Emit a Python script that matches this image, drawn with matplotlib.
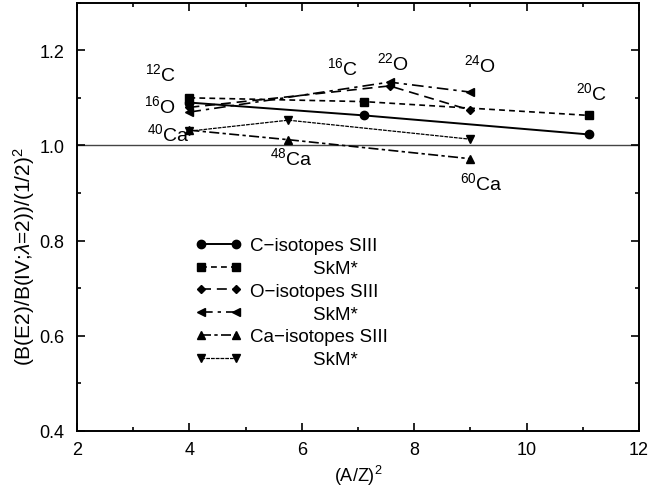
import matplotlib
matplotlib.use("Agg")
import matplotlib.pyplot as plt
from matplotlib.ticker import MultipleLocator

plt.rcParams['font.family'] = ['Liberation Sans', 'DejaVu Sans']
plt.rcParams['mathtext.fontset'] = 'custom'
plt.rcParams['mathtext.rm'] = 'Liberation Sans'
plt.rcParams['mathtext.it'] = 'Liberation Sans:italic'

# Data: x = (A/Z)^2
c_x = [4.0, 7.11, 11.11]
c_siii = [1.09, 1.063, 1.023]
c_skm = [1.10, 1.092, 1.063]
o_x = [4.0, 7.5625, 9.0]
o_siii = [1.08, 1.125, 1.074]
o_skm = [1.07, 1.133, 1.112]
ca_x = [4.0, 5.76, 9.0]
ca_siii = [1.032, 1.012, 0.972]
ca_skm = [1.03, 1.053, 1.013]

labels = ["C\u2212isotopes SIII", "            SkM*",
          "O\u2212isotopes SIII", "            SkM*",
          "Ca\u2212isotopes SIII", "            SkM*"]

nuclei = [r"$^{12}$C", r"$^{16}$O", r"$^{40}$Ca", r"$^{48}$Ca", r"$^{16}$C",
          r"$^{22}$O", r"$^{24}$O", r"$^{20}$C", r"$^{60}$Ca"]
nuc_x = [3.48, 3.48, 3.62, 5.81, 6.73, 7.62, 9.17, 11.16, 9.2]
nuc_y = [1.152, 1.085, 1.025, 0.975, 1.165, 1.175, 1.171, 1.112, 0.922]

fig = plt.figure(figsize=(6.49, 4.89), dpi=100)
ax = fig.add_axes([0.1186, 0.1166, 0.866, 0.876])

ax.axhline(1.0, color='#444444', lw=1.0, zorder=1)

ms = 6
ax.plot(c_x, c_siii, color='k', ls='-', lw=1.4, marker='o', ms=ms, label=labels[0])
ax.plot(c_x, c_skm, color='k', ls=(0, (3.5, 2.5)), lw=1.2, marker='s', ms=ms - 0.5, label=labels[1])
ax.plot(o_x, o_siii, color='k', ls=(0, (6, 3.5)), lw=1.2, marker='D', ms=ms - 1.5, label=labels[2])
ax.plot(o_x, o_skm, color='k', ls=(0, (7, 3, 2, 3)), lw=1.2, marker='<', ms=ms, label=labels[3])
ax.plot(ca_x, ca_siii, color='k', ls=(0, (6, 2, 2, 2)), lw=1.2, marker='^', ms=ms, label=labels[4])
ax.plot(ca_x, ca_skm, color='k', ls=(0, (3, 0.8)), lw=0.9, marker='v', ms=ms, label=labels[5])

for t, x, y in zip(nuclei, nuc_x, nuc_y):
    ax.text(x, y, t, fontsize=14, ha='center', va='center')

ax.set_xlim(2, 12)
ax.set_ylim(0.4, 1.3)
ax.xaxis.set_major_locator(MultipleLocator(2))
ax.xaxis.set_minor_locator(MultipleLocator(1))
ax.yaxis.set_minor_locator(MultipleLocator(0.1))
ax.set_yticks([0.4, 0.6, 0.8, 1.0, 1.2])
ax.set_yticklabels(['0.4', '0.6', '0.8', '1.0', '1.2'])
ax.tick_params(which='both', direction='in', top=True, right=True, labelsize=13, width=1.2)
ax.tick_params(which='major', length=6)
ax.tick_params(which='minor', length=3)
ax.tick_params(axis='x', which='major', pad=7)
ax.tick_params(axis='y', which='major', pad=9)
for s in ax.spines.values():
    s.set_linewidth(1.4)

ax.set_xlabel(r"(A/Z)$^{2}$", fontsize=13)
ax.xaxis.set_label_coords(0.5, -0.075, transform=ax.transAxes)
ax.xaxis.label.set_va('top')
ax.set_ylabel(r"(B(E2)/B(IV;$\lambda$=2))/(1/2)$^{2}$", fontsize=15)
ax.yaxis.set_label_coords(-0.072, 0.41)

leg = ax.legend(loc='upper left', bbox_to_anchor=(0.21, 0.452), frameon=False,
                fontsize=13.5, handlelength=2.5, handletextpad=0.45, labelspacing=0.3,
                borderaxespad=0, borderpad=0, numpoints=2)

fig.savefig("out.png", dpi=100)
